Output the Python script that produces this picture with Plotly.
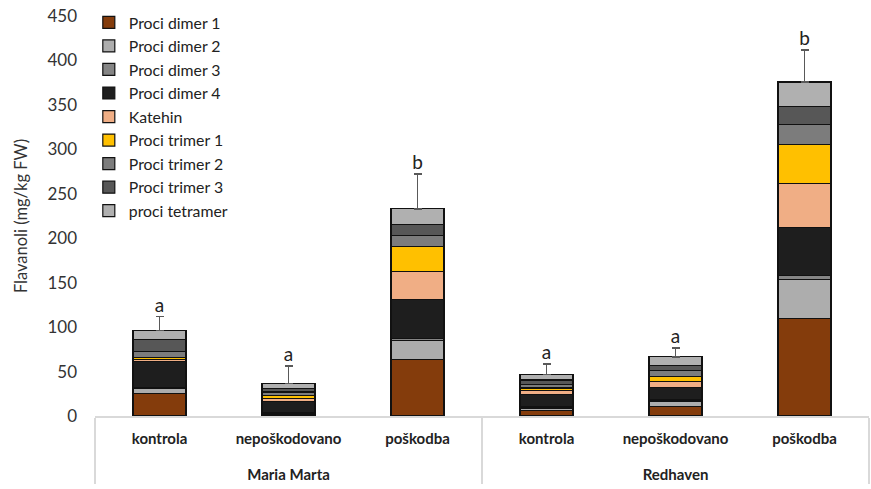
import plotly.graph_objects as go

# Categories: cultivar / treatment
cultivars = ["Maria Marta"] * 3 + ["Redhaven"] * 3
treatments = ["kontrola", "nepoškodovano", "poškodba"] * 2

# Flavanol components (mg/kg FW), stacked bottom to top
series_names = [
    "Proci dimer 1", "Proci dimer 2", "Proci dimer 3", "Proci dimer 4",
    "Katehin", "Proci trimer 1", "Proci trimer 2", "Proci trimer 3",
    "proci tetramer",
]
proci_dimer_1 = [25.0, 1.5, 64.0, 6.0, 11.0, 110.0]
proci_dimer_2 = [6.0, 1.0, 20.5, 3.0, 5.5, 44.0]
proci_dimer_3 = [1.5, 1.0, 3.0, 1.5, 1.5, 3.8]
proci_dimer_4 = [29.0, 13.0, 44.0, 14.0, 14.5, 54.5]
katehin = [2.5, 3.5, 31.0, 4.0, 6.0, 49.5]
proci_trimer_1 = [1.5, 3.0, 28.0, 3.0, 6.0, 44.0]
proci_trimer_2 = [7.0, 4.0, 12.5, 4.0, 6.5, 22.5]
proci_trimer_3 = [14.0, 4.0, 12.5, 5.0, 5.5, 19.5]
proci_tetramer = [9.5, 5.5, 17.5, 6.0, 10.0, 28.0]

# Upper error of the total and significance letters
total_error = [16.0, 20.0, 39.0, 12.0, 10.0, 36.0]
letters = ["a", "a", "b", "a", "a", "b"]

series_values = [
    proci_dimer_1, proci_dimer_2, proci_dimer_3, proci_dimer_4, katehin,
    proci_trimer_1, proci_trimer_2, proci_trimer_3, proci_tetramer,
]
colors = [
    "#843C0C", "#ADADAD", "#858585", "#1E1E1E", "#F0AE85",
    "#FFC000", "#7C7C7C", "#575757", "#B0B0B0",
]

y_ticks = list(range(0, 451, 50))

# a tall blank line under each treatment label widens the gap to the cultivar row
treatment_labels = [t + "<br><span style='font-size:35px'> </span>" for t in treatments]
x = [cultivars, treatment_labels]

fig = go.Figure()
for i, (name, vals, col) in enumerate(zip(series_names, series_values, colors)):
    is_top = i == len(series_names) - 1
    fig.add_trace(go.Bar(
        x=x, y=vals, name=name,
        marker=dict(color=col, line=dict(color="#111111", width=1.2)),
        error_y=dict(type="data", symmetric=False, array=total_error,
                     arrayminus=[0] * len(total_error), color="#595959",
                     thickness=1.5, width=4) if is_top else None,
    ))

totals = [sum(v[k] for v in series_values) for k in range(len(treatments))]
fig.add_trace(go.Scatter(
    x=x, y=[t + e for t, e in zip(totals, total_error)],
    mode="text", text=letters, textposition="top center",
    textfont=dict(family="Lato", size=19, color="#222222"),
    showlegend=False, hoverinfo="skip", cliponaxis=False,
))

fig.update_layout(
    width=871, height=489,
    margin=dict(l=95, r=2, t=16, b=73, autoexpand=False),
    barmode="stack", bargap=0.59,
    plot_bgcolor="white", paper_bgcolor="white",
    font=dict(family="Lato", color="#333333"),
    legend=dict(
        x=-0.008, y=1.026, xanchor="left", yanchor="top",
        traceorder="normal", bgcolor="rgba(0,0,0,0)",
        font=dict(family="Lato", size=15.8, color="#222222"),
        itemwidth=30, tracegroupgap=0,
    ),
    showlegend=True,
)
fig.update_yaxes(
    range=[0, 450], tickvals=y_ticks, showgrid=False, zeroline=False,
    showline=False, ticks="", ticklabelstandoff=17,
    tickfont=dict(family="Lato", size=17, color="#333333"),
    title=dict(text="Flavanoli (mg/kg FW)", standoff=15,
               font=dict(family="Lato", size=16.5, color="#333333")),
)
fig.update_xaxes(
    type="multicategory", showgrid=False, showline=True,
    linecolor="#D9D9D9", linewidth=1.5, ticklabelstandoff=8,
    showdividers=True, dividercolor="#D9D9D9", dividerwidth=1.5,
    tickfont=dict(family="Lato", size=15, color="#222222", weight="bold"),
)

fig.write_html("out.html")
